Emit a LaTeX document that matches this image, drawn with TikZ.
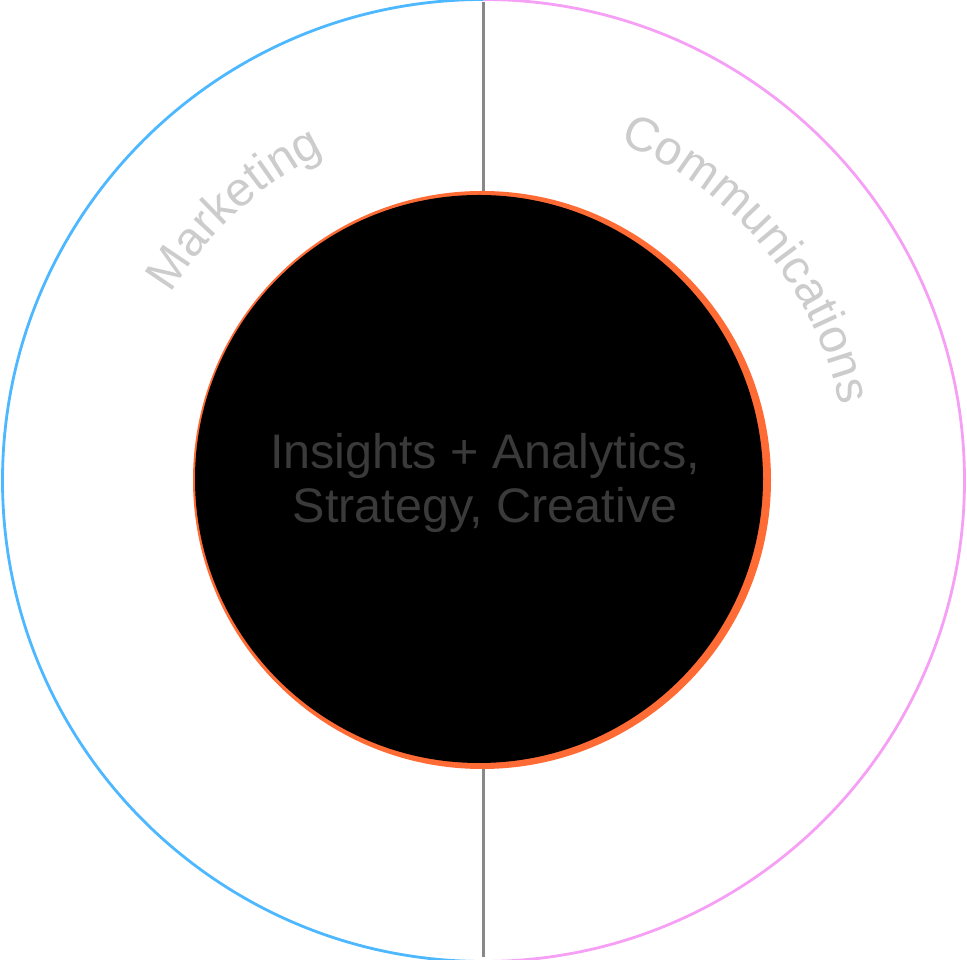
\documentclass[tikz,border=0pt]{standalone}
\usepackage{fontspec}
\setmainfont{Liberation Sans}
\usetikzlibrary{decorations.text}
\definecolor{mkblue}{HTML}{4DB8FF}
\definecolor{cmpink}{HTML}{F5A0F5}
\definecolor{coreorange}{HTML}{FF6B35}
\definecolor{divider}{HTML}{888888}
\definecolor{labgray}{HTML}{CCCCCC}
\definecolor{coretext}{HTML}{3A3A3A}
\newcommand\arclabfont{\fontsize{48}{48}\selectfont}
\begin{document}
\begin{tikzpicture}[x=1pt,y=1pt,
  ring/.style={line width=2.8pt},
  arclabel/.style={decorate, decoration={text along path, text align=center, text color=labgray}}]
\useasboundingbox (0,0) rectangle (967,960);
\coordinate (O) at (483.5,479.5);
\coordinate (divtop) at (483,957.5);
\coordinate (divbot) at (483,2.5);
% divider
\draw[divider, line width=3pt] (divtop) -- (divbot);
% outer ring halves
\draw[ring, mkblue] (O) ++(90:481) arc[start angle=90, end angle=270, radius=481];
\draw[ring, cmpink] (O) ++(-90:481) arc[start angle=-90, end angle=90, radius=481];
% core circle
\fill[coreorange] (482,480) circle[radius=289];
\fill[black] (479,481) circle[radius=284];
\node[text=coretext, align=center, font=\fontsize{48.5}{54}\selectfont] (core) at (485,477)
  {Insights + Analytics,\\Strategy, Creative};
% curved labels
\path[arclabel, decoration={text={|\arclabfont|Marketing}}]
  (O) ++(166:364) arc[start angle=166, end angle=99, radius=364];
\path[arclabel, decoration={text={|\arclabfont|Communications}}]
  (O) ++(75:364) arc[start angle=75, end angle=5, radius=364];
\end{tikzpicture}
\end{document}
